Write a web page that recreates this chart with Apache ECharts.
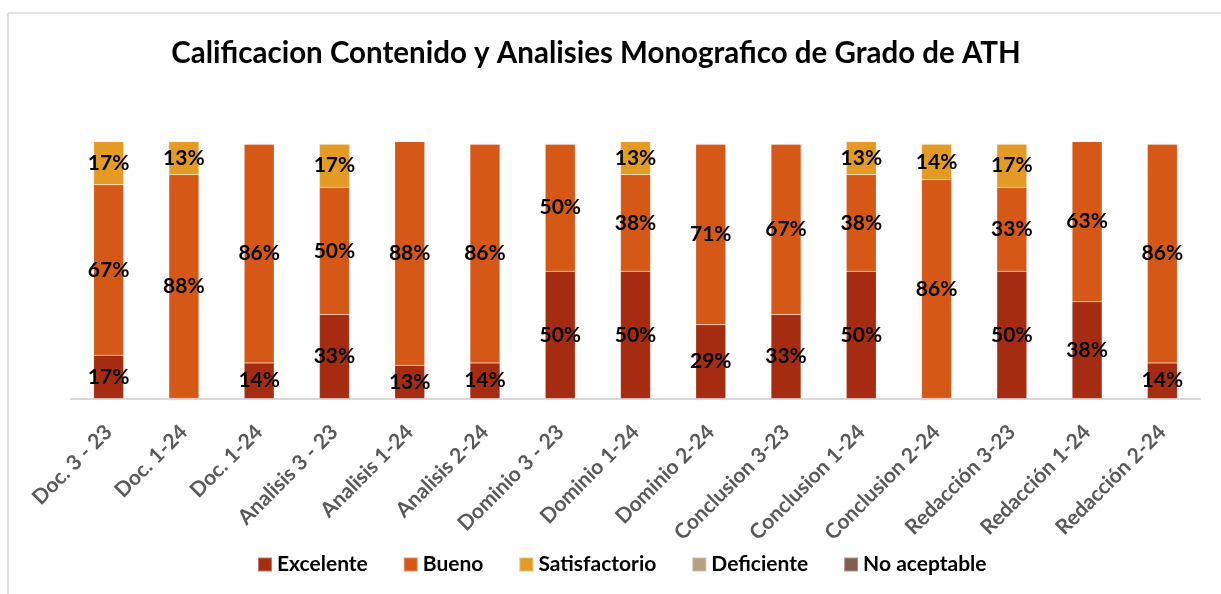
<!DOCTYPE html>
<html>
<head>
<meta charset="UTF-8">
<script src="https://cdn.jsdelivr.net/npm/echarts@6/dist/echarts.min.js"></script>
<style>
html, body { margin: 0; padding: 0; background: #fff; }
#main { width: 1221px; height: 594px; }
</style>
</head>
<body>
<div id="main"></div>
<script>
var categories = ['Doc. 3 - 23', 'Doc. 1-24', 'Doc. 1-24', 'Analisis 3 - 23', 'Analisis 1-24', 'Analisis 2-24',
    'Dominio 3 - 23', 'Dominio 1-24', 'Dominio 2-24', 'Conclusion 3-23', 'Conclusion 1-24', 'Conclusion 2-24',
    'Redacción 3-23', 'Redacción 1-24', 'Redacción 2-24'];
var excelente = [0.17, 0, 0.14, 0.33, 0.13, 0.14, 0.50, 0.50, 0.29, 0.33, 0.50, 0, 0.50, 0.38, 0.14];
var bueno = [0.67, 0.88, 0.86, 0.50, 0.88, 0.86, 0.50, 0.38, 0.71, 0.67, 0.38, 0.86, 0.33, 0.63, 0.86];
var satisfactorio = [0.17, 0.13, 0, 0.17, 0, 0, 0, 0.13, 0, 0, 0.13, 0.14, 0.17, 0, 0];
var deficiente = [0, 0, 0, 0, 0, 0, 0, 0, 0, 0, 0, 0, 0, 0, 0];
var noAceptable = [0, 0, 0, 0, 0, 0, 0, 0, 0, 0, 0, 0, 0, 0, 0];

var names = ['Excelente', 'Bueno', 'Satisfactorio', 'Deficiente', 'No aceptable'];
var colors = ['#a52c10', '#d55817', '#e49b26', '#b5a080', '#7e5f52'];
var values = [excelente, bueno, satisfactorio, deficiente, noAceptable];

var font = 'Lato';

var series = names.map(function (n, i) {
    return {
        name: n,
        type: 'bar',
        stack: 'total',
        barWidth: 30,
        data: values[i],
        itemStyle: { color: colors[i], borderColor: 'rgba(255,255,255,0.35)', borderWidth: 0.5 },
        label: {
            show: true,
            position: 'inside',
            color: '#000',
            fontFamily: font,
            fontWeight: 'bold',
            fontSize: 21,
            formatter: function (p) {
                return p.value ? Math.round(p.value * 100) + '%' : '';
            }
        }
    };
});

var chart = echarts.init(document.getElementById('main'));
chart.setOption({
    animation: false,
    color: colors,
    title: {
        text: 'Calificacion Contenido y Analisies Monografico de Grado de ATH',
        left: 591,
        textAlign: 'center',
        top: 33,
        textStyle: { fontFamily: font, fontWeight: 'bold', fontSize: 29.5, color: '#000' }
    },
    legend: {
        left: 257,
        top: 554,
        padding: 0,
        itemWidth: 14,
        itemHeight: 14,
        itemGap: 35,
        icon: 'rect',
        textStyle: { fontFamily: font, fontWeight: 'bold', fontSize: 21, color: '#000' }
    },
    grid: { left: 71, right: 21, top: 118.6, bottom: 195.5, containLabel: false },
    xAxis: {
        type: 'category',
        data: categories,
        axisLine: { lineStyle: { color: '#d9d9d9', width: 2 } },
        axisTick: { show: false },
        axisLabel: {
            rotate: 45,
            interval: 0,
            margin: 30,
            color: '#595959',
            fontFamily: font,
            fontWeight: 'bold',
            fontSize: 21
        }
    },
    yAxis: {
        type: 'value',
        min: 0,
        max: 1.1,
        show: false,
        splitLine: { show: false }
    },
    graphic: [
        { type: 'line', shape: { x1: 8, y1: 13, x2: 1221, y2: 13 }, style: { stroke: '#d9d9d9', lineWidth: 1.5 } },
        { type: 'line', shape: { x1: 8, y1: 13, x2: 8, y2: 594 }, style: { stroke: '#d9d9d9', lineWidth: 1.5 } }
    ],
    series: series
});
</script>
</body>
</html>
